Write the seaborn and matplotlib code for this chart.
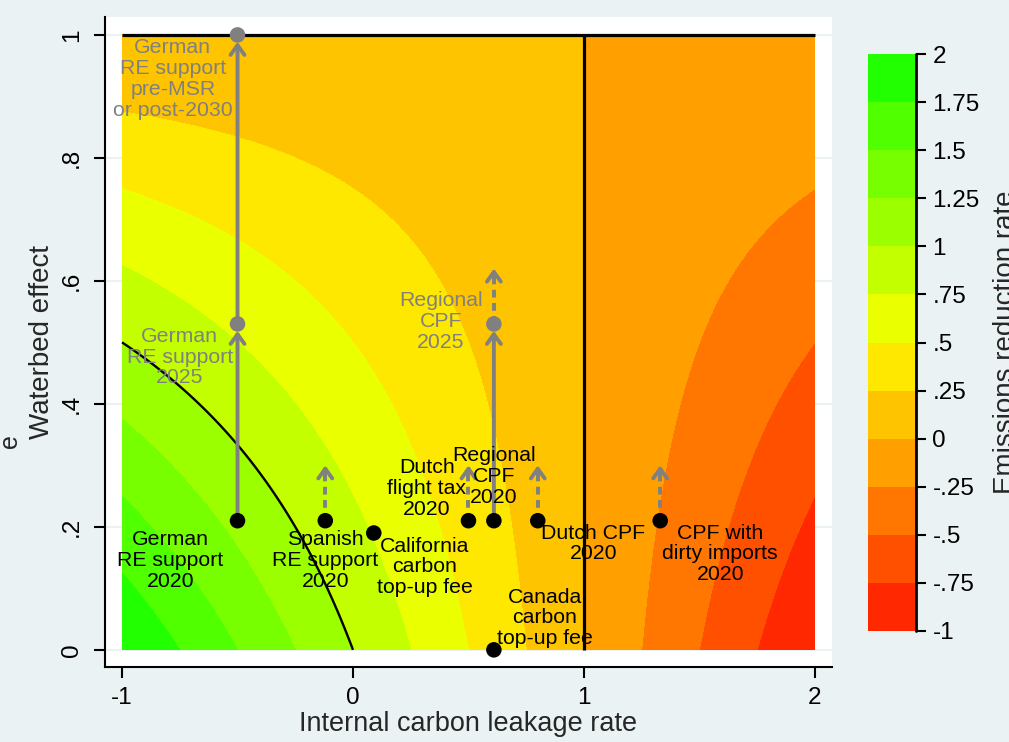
import numpy as np
import pandas as pd
import matplotlib
matplotlib.use("Agg")
import matplotlib.pyplot as plt
import seaborn as sns

# contour model: emissions reduction rate = (1 - leakage) * (1 - waterbed)
leakage_grid = np.linspace(-1, 2, 601)
waterbed_grid = np.linspace(0, 1, 401)

levels = [-1, -0.75, -0.5, -0.25, 0, 0.25, 0.5, 0.75, 1, 1.25, 1.5, 1.75, 2]
level_labels = ["-1", "-.75", "-.5", "-.25", "0", ".25", ".5", ".75", "1",
                "1.25", "1.5", "1.75", "2"]
band_colors = ["#ff2800", "#ff5000", "#ff7700", "#ffa000", "#ffc400", "#ffe800",
               "#eaff00", "#c4ff00", "#9cff00", "#77ff00", "#50ff00", "#22ff00"]

x_ticks = [-1, 0, 1, 2]
y_ticks = [0, 0.2, 0.4, 0.6, 0.8, 1]
y_tick_labels = ["0", ".2", ".4", ".6", ".8", "1"]

# policies in 2020 (black) and later scenarios (gray)
now_x = [-0.5, -0.12, 0.09, 0.5, 0.61, 0.8, 1.33, 0.61]
now_y = [0.21, 0.21, 0.19, 0.21, 0.21, 0.21, 0.21, 0.0]
later_x = [-0.5, -0.5, 0.61]
later_y = [0.53, 1.0, 0.53]

# solid arrows (known shifts) and dashed arrows (possible shifts)
solid_x = [-0.5, -0.5, 0.61]
solid_from = [0.21, 0.53, 0.21]
solid_to = [0.53, 1.0, 0.53]
dashed_x = [-0.12, 0.5, 0.8, 1.33, 0.61]
dashed_from = [0.21, 0.21, 0.21, 0.21, 0.53]
dashed_to = [0.30, 0.30, 0.30, 0.30, 0.62]

label_text = ["German\nRE support\npre-MSR\nor post-2030", "German\nRE support\n2025",
              "Regional\nCPF\n2025",
              "German\nRE support\n2020", "Spanish\nRE support\n2020",
              "California\ncarbon\ntop-up fee", "Dutch\nflight tax\n2020",
              "Regional\nCPF\n2020", "Dutch CPF\n2020",
              "CPF with\ndirty imports\n2020", "Canada\ncarbon\ntop-up fee"]
label_x = [-0.78, -0.75, 0.38, -0.79, -0.12, 0.31, 0.32, 0.61, 1.04, 1.59, 0.83]
label_y = [0.928, 0.476, 0.534, 0.145, 0.145, 0.135, 0.262, 0.282, 0.173, 0.156, 0.052]
label_gray = [True, True, True, False, False, False, False, False, False, False, False]

bg = "#eaf2f3"
gray = "#808080"

sns.set_style("ticks")
plt.rcParams["font.family"] = ["Liberation Sans", "DejaVu Sans"]
plt.rcParams["axes.unicode_minus"] = False

X, Y = np.meshgrid(leakage_grid, waterbed_grid)
Z = (1 - X) * (1 - Y)

fig = plt.figure(figsize=(10.09, 7.42), dpi=100, facecolor=bg)
ax = fig.add_axes([0.104, 0.101, 0.7206, 0.876])
ax.set_facecolor("white")

cf = ax.contourf(X, Y, Z, levels=levels, colors=band_colors, zorder=1)
ax.contour(X, Y, Z, levels=[1], colors="black", linewidths=1.7, zorder=2)
ax.hlines(1, -1, 2, colors="black", lw=2.3, zorder=3)
ax.vlines(1, 0, 1, colors="black", lw=2.3, zorder=3)

for x, y0, y1 in zip(solid_x, solid_from, solid_to):
    ax.annotate("", xy=(x, y1), xytext=(x, y0), zorder=4,
                arrowprops=dict(arrowstyle="->,head_length=0.7,head_width=0.5",
                                color=gray, lw=2.8, shrinkA=0, shrinkB=5,
                                mutation_scale=10))
for x, y0, y1 in zip(dashed_x, dashed_from, dashed_to):
    ax.plot([x, x], [y0, y1 - 0.01], color=gray, lw=2.8, dashes=(2, 1.4), zorder=4,
            solid_capstyle="butt", dash_capstyle="butt")
    ax.annotate("", xy=(x, y1), xytext=(x, y1 - 0.012), zorder=4,
                arrowprops=dict(arrowstyle="->,head_length=0.7,head_width=0.5",
                                color=gray, lw=2.8, shrinkA=0, shrinkB=0,
                                mutation_scale=10))

pts = pd.DataFrame({"x": now_x + later_x, "y": now_y + later_y,
                    "when": ["2020"] * len(now_x) + ["later"] * len(later_x)})
sns.scatterplot(data=pts, x="x", y="y", hue="when", palette={"2020": "black", "later": gray},
                s=125, edgecolor="none", legend=False, zorder=5, ax=ax)

for t, x, y, g in zip(label_text, label_x, label_y, label_gray):
    ax.text(x, y, t, ha="center", va="center", fontsize=15.3, linespacing=1.12,
            color=gray if g else "black", zorder=6)

ax.set_xlim(-1.074, 2.074)
ax.set_ylim(-0.028, 1.029)
ax.set_xticks(x_ticks)
ax.set_xticklabels([str(v) for v in x_ticks])
ax.set_yticks(y_ticks)
ax.set_yticklabels(y_tick_labels, rotation=90, va="center")
ax.tick_params(direction="out", length=8, width=1.5, labelsize=17.5, colors="black")
ax.tick_params(axis="y", pad=8)
ax.tick_params(axis="x", pad=6)
ax.grid(axis="y", color=bg, lw=1.5)
ax.set_axisbelow(True)
for side in ["top", "right"]:
    ax.spines[side].set_visible(False)
for side in ["left", "bottom"]:
    ax.spines[side].set_linewidth(1.5)
    ax.spines[side].set_color("black")
ax.set_xlabel("Internal carbon leakage rate", fontsize=19.5, labelpad=2)
ax.set_ylabel("Waterbed effect", fontsize=20, labelpad=4)

cax = fig.add_axes([0.860, 0.1496, 0.0476, 0.7776])
cb = fig.colorbar(cf, cax=cax, ticks=levels)
cb.ax.set_yticklabels(level_labels)
cb.outline.set_visible(False)
cax.tick_params(direction="out", length=7, width=1.5, labelsize=17.5, pad=5, colors="black")
cax.plot([1, 1], [0, 1], transform=cax.transAxes, color="black", lw=2, clip_on=False)

fig.text(0.9845, 0.539, "Emissions reduction rate", rotation=90, ha="left", va="center",
         fontsize=20)
fig.text(-0.002, 0.406, "e", rotation=90, ha="left", va="center", fontsize=18)

fig.savefig("out.png", dpi=100, facecolor=bg)
